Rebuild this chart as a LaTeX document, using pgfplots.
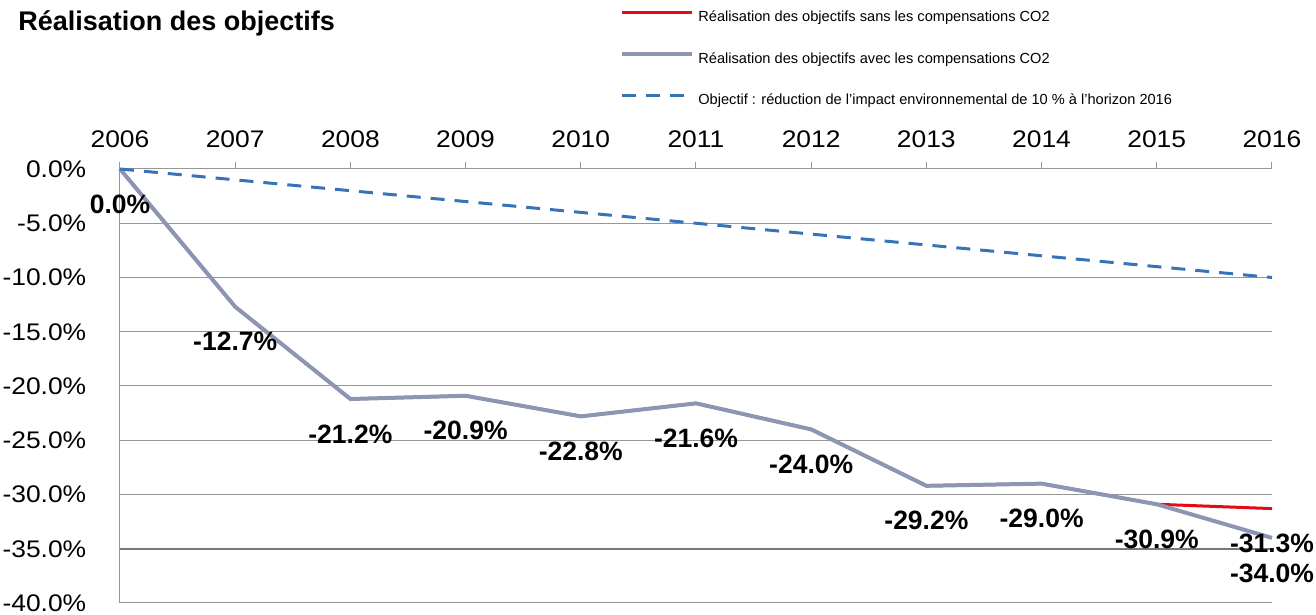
\documentclass[border=0pt]{standalone}
\usepackage{fontspec}
\setmainfont{Liberation Sans}
\usepackage{pgfplots}
\pgfplotsset{compat=1.18}

\definecolor{sansred}{RGB}{228,12,20}
\definecolor{avecgray}{RGB}{140,150,180}
\definecolor{objblue}{RGB}{55,115,185}
\definecolor{gridgray}{RGB}{150,150,150}

\begin{document}
\begin{tikzpicture}
\begin{axis}[
  scale only axis, width=576pt, height=217pt,
  xmin=2006, xmax=2016, ymin=-40, ymax=0,
  axis x line=top, axis y line=left,
  axis line style={-, gridgray, line width=0.5pt},
  xtick={2006,...,2016},
  ytick={-40,-35,...,0},
  ymajorgrids, grid style={gridgray, line width=0.5pt},
  extra y ticks={-35}, extra y tick labels={},
  extra y tick style={grid style={gridgray!80!black, line width=1pt}},
  tick align=outside, major tick length=3.5pt,
  xtick style={gridgray, line width=0.5pt},
  ytick style={draw=none},
  /pgf/number format/assume math mode=true,
  xticklabel={\pgfmathprintnumber[1000 sep={}]{\tick}},
  yticklabel={\pgfmathprintnumber[fixed,fixed zerofill,precision=1]{\tick}\%},
  xticklabel style={font=\fontsize{12}{14}\selectfont, xscale=1.1, inner sep=0pt, anchor=south, yshift=7pt},
  yticklabel style={font=\fontsize{12}{14}\selectfont, xscale=1.1, inner sep=0pt, anchor=east, xshift=-12pt},
  clip=false,
  point meta=explicit symbolic,
  nodes near coords,
  nodes near coords style={anchor=center, yshift=-17.5pt, inner sep=0pt, text=black,
    font=\bfseries\fontsize{13.25}{15}\selectfont},
  legend cell align=left,
  legend image code/.code={\draw[#1] (0pt,2.5pt) -- (35pt,2.5pt);},
  legend style={at={(0.434,1.366)}, anchor=north west, draw=none, fill=none,
    inner sep=0pt, row sep=13.5pt, column sep=2pt,
    nodes={inner sep=0pt, text height=5.7pt, text depth=1.5pt},
    font=\fontsize{7.3}{8.6}\selectfont},
]
\addplot[sansred, line width=1.5pt] coordinates {
  (2006,0)[0.0\%] (2007,-12.7)[-12.7\%] (2008,-21.2)[-21.2\%]
  (2009,-20.9)[-20.9\%] (2010,-22.8)[-22.8\%] (2011,-21.6)[-21.6\%]
  (2012,-24.0)[-24.0\%] (2013,-29.2)[-29.2\%] (2014,-29.0)[-29.0\%]
  (2015,-30.9)[-30.9\%] (2016,-31.3)[-31.3\%]};
\addlegendentry{Réalisation des objectifs sans les compensations CO2}
\addplot[avecgray, line width=2pt] coordinates {
  (2006,0)[] (2007,-12.7)[] (2008,-21.2)[]
  (2009,-20.9)[] (2010,-22.8)[] (2011,-21.6)[]
  (2012,-24.0)[] (2013,-29.2)[] (2014,-29.0)[]
  (2015,-30.9)[] (2016,-34.0)[-34.0\%]};
\addlegendentry{Réalisation des objectifs avec les compensations CO2}
\addplot[objblue, line width=1.5pt, dash pattern=on 7pt off 5pt, nodes near coords={}] coordinates {
  (2006,0)[] (2007,-1)[] (2008,-2)[] (2009,-3)[] (2010,-4)[] (2011,-5)[]
  (2012,-6)[] (2013,-7)[] (2014,-8)[] (2015,-9)[] (2016,-10)[]};
\addlegendentry{Objectif : réduction de l'impact environnemental de 10 \% à l'horizon 2016}
\end{axis}
\node[anchor=base west, inner sep=0pt, font=\bfseries\fontsize{13.5}{16}\selectfont] at (-51pt,286pt) {Réalisation des objectifs};
\pgfresetboundingbox
\path[use as bounding box] (-60pt,-6pt) rectangle (598pt,301.5pt);
\end{tikzpicture}
\end{document}
